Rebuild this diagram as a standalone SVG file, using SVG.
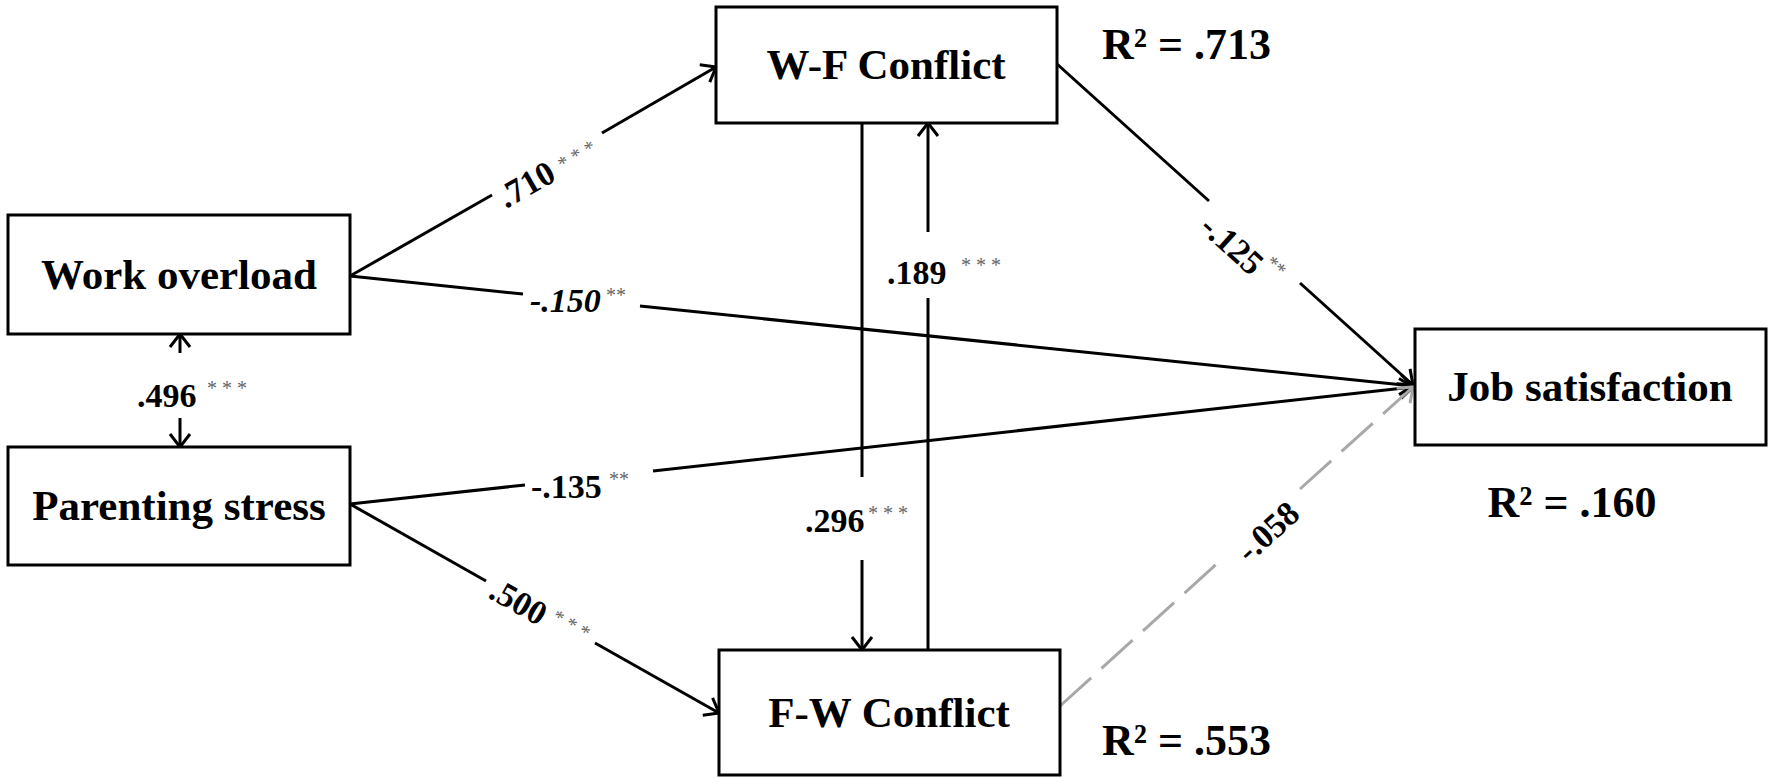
<svg xmlns="http://www.w3.org/2000/svg" width="1772" height="778" viewBox="0 0 1772 778">
<defs>
<marker id="arr" markerUnits="userSpaceOnUse" markerWidth="18" markerHeight="26" viewBox="0 0 18 26" refX="16" refY="13" orient="auto"><path d="M3,3 L16,13 L3,23" fill="none" stroke="#000" stroke-width="3"/></marker>
<marker id="arrg" markerUnits="userSpaceOnUse" markerWidth="18" markerHeight="26" viewBox="0 0 18 26" refX="16" refY="13" orient="auto"><path d="M3,3 L16,13 L3,23" fill="none" stroke="#a8a8a8" stroke-width="3"/></marker>
</defs>
<style>
.box{fill:#fff;stroke:#000;stroke-width:3}
.lbl{font-family:"Liberation Serif","Times New Roman",serif;font-weight:bold;font-size:43px;fill:#000;text-anchor:middle}
.num{font-family:"Liberation Serif","Times New Roman",serif;font-weight:bold;font-size:34px;fill:#000}
.ast{font-family:"Liberation Serif","Times New Roman",serif;font-size:20px;fill:#666}
.r2{font-family:"Liberation Serif","Times New Roman",serif;font-weight:bold;font-size:44px;fill:#000}
.ln{fill:none;stroke:#000;stroke-width:3}
.dash{fill:none;stroke:#a8a8a8;stroke-width:3;stroke-dasharray:42 14}
</style>
<rect width="1772" height="778" fill="#fff"/>
<g id="connectors">
<path class="ln" d="M350,276 L492,195"/>
<path class="ln" d="M602,133 L716,67" marker-end="url(#arr)"/>
<path class="ln" d="M350,276 L523,294"/>
<path class="ln" d="M640,306 L1413,386" marker-end="url(#arr)"/>
<path class="ln" d="M350,504 L525,485"/>
<path class="ln" d="M653,471 L1413,387" marker-end="url(#arr)"/>
<path class="ln" d="M350,504 L486,581"/>
<path class="ln" d="M595,643 L719,713" marker-end="url(#arr)"/>
<path class="ln" d="M862,123 L862,477"/>
<path class="ln" d="M862,560 L862,650" marker-end="url(#arr)"/>
<path class="ln" d="M928,650 L928,298"/>
<path class="ln" d="M928,232 L928,123" marker-end="url(#arr)"/>
<path class="ln" d="M1057,64 L1209,201"/>
<path class="ln" d="M1300,283 L1413,385" marker-end="url(#arr)"/>
<path class="dash" d="M1060,706 L1220,561"/>
<path class="dash" d="M1300,489 L1413,387" marker-end="url(#arrg)"/>
<path class="ln" d="M180,353 L180,334" marker-end="url(#arr)"/>
<path class="ln" d="M180,418 L180,447" marker-end="url(#arr)"/>
</g>
<g id="labels">
<text class="num" x="137" y="407">.496</text><text class="ast" x="207" y="395">* * *</text>
<text class="num" x="530" y="312" font-style="italic">-.150</text><text class="ast" x="606" y="302">**</text>
<text class="num" x="531" y="498">-.135</text><text class="ast" x="609" y="486">**</text>
<g transform="translate(506,209) rotate(-29.7)"><text class="num" x="0" y="0">.710</text><text class="ast" x="68" y="-5">* * *</text></g>
<g transform="translate(487,597) rotate(29.5)"><text class="num" x="0" y="0">.500</text><text class="ast" x="67" y="-11">* * *</text></g>
<text class="num" x="805" y="532">.296</text><text class="ast" x="868" y="520">* * *</text>
<text class="num" x="887" y="284">.189</text><text class="ast" x="961" y="272">* * *</text>
<g transform="translate(1232,245) rotate(42)"><text class="num" x="0" y="11" text-anchor="middle">-.125</text><text class="ast" x="37" y="-7">**</text></g>
<g transform="translate(1268,532) rotate(-42)"><text class="num" x="0" y="11" text-anchor="middle">-.058</text></g>
<text class="r2" x="1102" y="59">R² = .713</text>
<text class="r2" x="1572" y="517" text-anchor="middle">R² = .160</text>
<text class="r2" x="1102" y="755">R² = .553</text>
</g>
<g id="work-overload"><rect class="box" x="8" y="215" width="342" height="119"/><text class="lbl" x="179" y="289">Work overload</text></g>
<g id="parenting-stress"><rect class="box" x="8" y="447" width="342" height="118"/><text class="lbl" x="179" y="520">Parenting stress</text></g>
<g id="wf-conflict"><rect class="box" x="716" y="7" width="341" height="116"/><text class="lbl" x="886" y="79">W-F Conflict</text></g>
<g id="fw-conflict"><rect class="box" x="719" y="650" width="341" height="125"/><text class="lbl" x="889" y="727">F-W Conflict</text></g>
<g id="job-satisfaction"><rect class="box" x="1415" y="329" width="351" height="116"/><text class="lbl" x="1590" y="401">Job satisfaction</text></g>
</svg>
